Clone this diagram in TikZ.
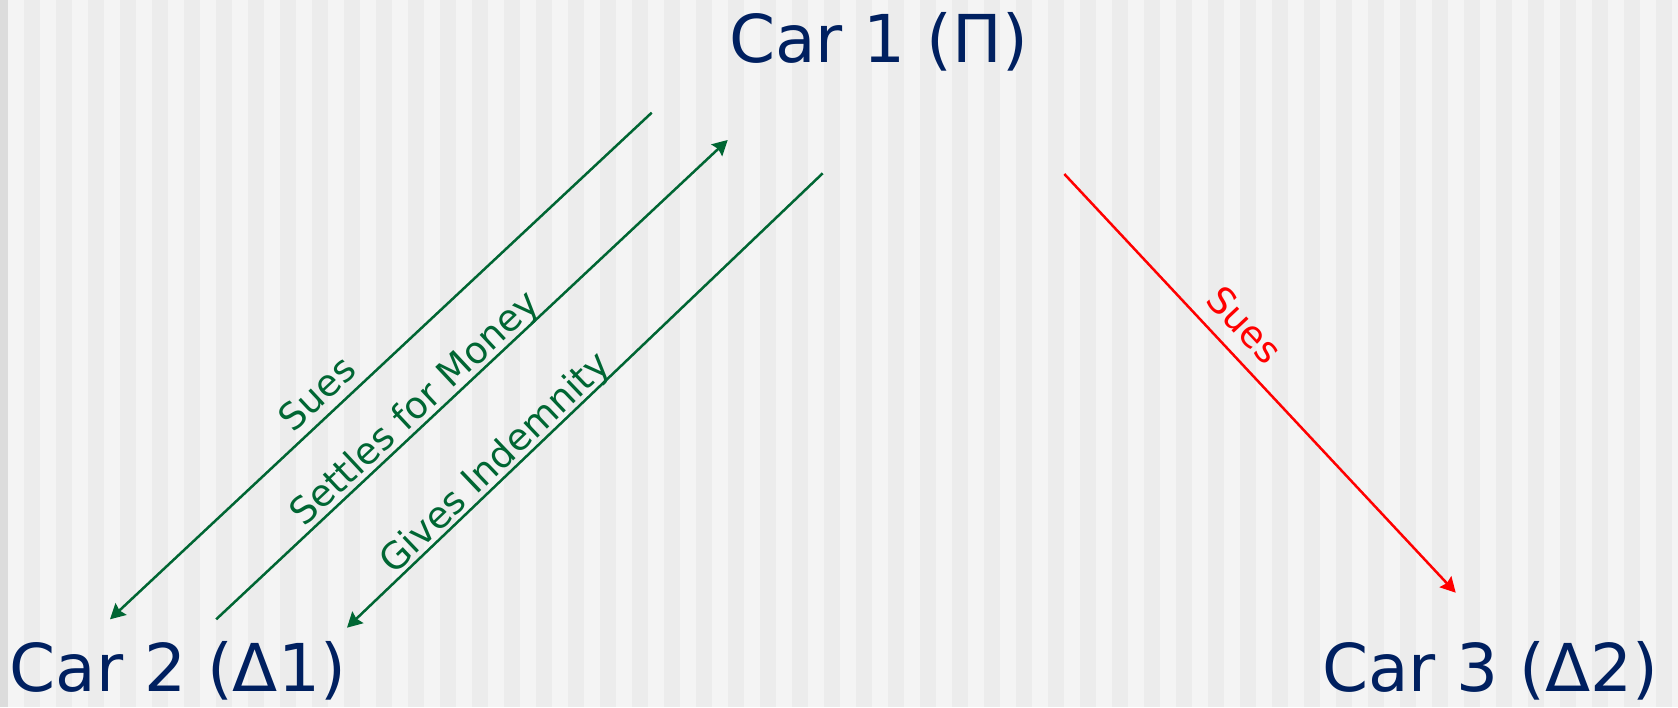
\documentclass[tikz,border=0pt]{standalone}
\usepackage{fontspec}
\setmainfont{DejaVu Sans}
\usetikzlibrary{arrows.meta}

\definecolor{navytext}{HTML}{002060}
\definecolor{arrowgreen}{HTML}{006633}
\definecolor{arrowred}{HTML}{FF0000}
\definecolor{stripelight}{HTML}{F4F4F4}
\definecolor{stripedark}{HTML}{ECECEC}
\definecolor{edgegrey}{HTML}{DCDCDC}

\tikzset{
  carlabel/.style={text=navytext, inner sep=0pt, anchor=base west,
    font=\fontsize{66}{79}\selectfont},
  edgelabel/.style={inner sep=0pt, anchor=base,
    font=\fontsize{37}{44}\selectfont},
  tipshape/.style={-{Stealth[length=15pt,width=16pt,inset=2pt]}},
  greenarrow/.style={draw=arrowgreen, line width=2.5pt, tipshape},
  redarrow/.style={draw=arrowred, line width=2.5pt, tipshape},
}

\begin{document}
\begin{tikzpicture}[x=1pt,y=1pt]
  % striped backdrop: 16pt bands, light ones starting at 8pt
  \useasboundingbox (0,0) rectangle (1678,707);
  \fill[stripedark] (0,0) rectangle (1678,707);
  \fill[edgegrey] (0,0) rectangle (8,707);
  \foreach \sx in {8,40,...,1672} {
    \fill[stripelight] (\sx,0) rectangle ++(16,707);
  }

  % the three cars
  \node[carlabel] (car1) at (729,644) {Car 1 (Π)};
  \node[carlabel] (car2) at (9.5,16) {Car 2 (Δ1)};
  \node[carlabel] (car3) at (1322,16) {Car 3 (Δ2)};

  % arrow end points
  \coordinate (suesA)    at (651.7,594.3);
  \coordinate (suesB)    at (110,87.7);
  \coordinate (settleA)  at (216.2,87.7);
  \coordinate (settleB)  at (727.7,567);
  \coordinate (indemA)   at (822.7,533.7);
  \coordinate (indemB)   at (347,79.3);
  \coordinate (redA)     at (1064.3,533);
  \coordinate (redB)     at (1455.7,114.3);

  % connectors
  \draw[greenarrow] (suesA) -- (suesB);
  \draw[greenarrow] (settleA) -- (settleB);
  \draw[greenarrow] (indemA) -- (indemB);
  \draw[redarrow]   (redA) -- (redB);

  % connector labels
  \node[edgelabel, text=arrowgreen, rotate=43.1] (lsues) at (326,304) {Sues};
  \node[edgelabel, text=arrowgreen, rotate=43.13] (lsettle) at (423,290) {Settles for Money};
  \node[edgelabel, text=arrowgreen, rotate=43.7] (lindem) at (503,236) {Gives Indemnity};
  \node[edgelabel, text=arrowred, rotate=-46.93] (lred) at (1235,373) {Sues};
\end{tikzpicture}
\end{document}
